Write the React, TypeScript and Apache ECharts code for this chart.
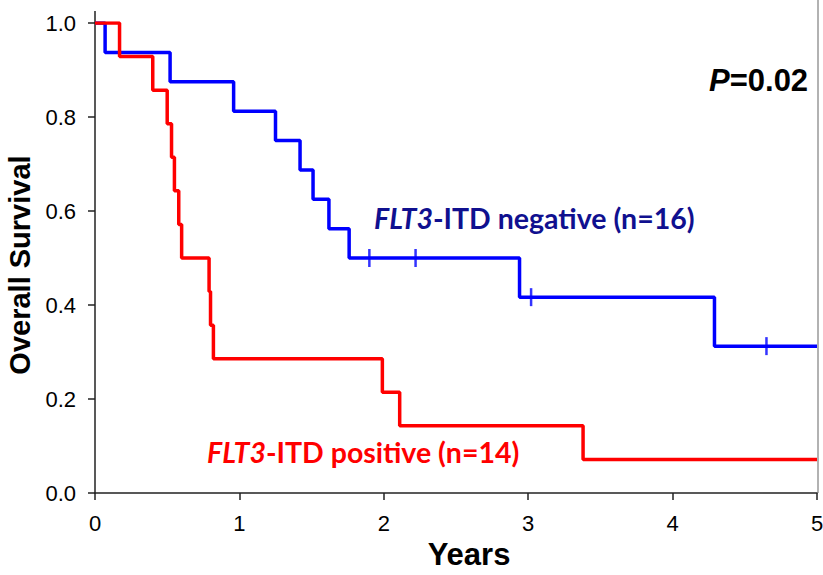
import React, { useEffect, useRef } from "react";
import * as echarts from "echarts";

const blueTimes = [0, 0.07, 0.52, 0.96, 1.25, 1.42, 1.51, 1.62, 1.76, 2.94, 4.29, 5];
const blueSurv = [1, 0.9375, 0.875, 0.8125, 0.75, 0.6875, 0.625, 0.5625, 0.5, 0.4167, 0.3125, 0.3125];
const blueCensorTimes = [1.9, 2.22, 3.02, 4.65];
const blueCensorSurv = [0.5, 0.5, 0.4167, 0.3125];

const redTimes = [0, 0.17, 0.4, 0.5, 0.53, 0.55, 0.58, 0.6, 0.79, 0.8, 0.82, 1.99, 2.11, 3.38, 5];
const redSurv = [1, 0.9286, 0.8571, 0.7857, 0.7143, 0.6429, 0.5714, 0.5, 0.4286, 0.3571, 0.2857, 0.2143, 0.1429, 0.0714, 0.0714];

const xTicks = [0, 1, 2, 3, 4, 5];
const yTicks = [0, 0.2, 0.4, 0.6, 0.8, 1.0];

export default function App() {
  const ref = useRef<HTMLDivElement>(null);
  useEffect(() => {
    if (!ref.current) return;
    const chart = echarts.init(ref.current, null, { renderer: "svg" });
    const zip = (a: number[], b: number[]) => a.map((t, i) => [t, b[i]]);
    chart.setOption({
      animation: false,
      grid: { left: 95, right: 6, top: 23, bottom: 82, outerBoundsMode: "none", containLabel: false },
      xAxis: {
        type: "value",
        min: xTicks[0],
        max: xTicks[xTicks.length - 1],
        interval: 1,
        axisLine: { lineStyle: { color: "#222", width: 1.5 } },
        axisTick: { show: true, length: 7, lineStyle: { color: "#222", width: 1.5 } },
        axisLabel: { color: "#000", fontSize: 22, fontFamily: "Liberation Sans, Arial", margin: 19 },
        splitLine: { show: false },
        name: "Years",
        nameLocation: "middle",
        nameGap: 44,
        nameTextStyle: {
          fontSize: 31,
          fontWeight: "bold",
          color: "#000",
          fontFamily: "Liberation Sans, Arial",
          padding: [0, 0, 0, 26],
        },
      },
      yAxis: {
        type: "value",
        min: yTicks[0],
        max: yTicks[yTicks.length - 1],
        interval: 0.2,
        axisLine: { show: true, lineStyle: { color: "#222", width: 1.5 } },
        axisTick: { show: true, length: 7, lineStyle: { color: "#222", width: 1.5 } },
        axisLabel: {
          color: "#000",
          fontSize: 22,
          fontFamily: "Liberation Sans, Arial",
          margin: 19,
          formatter: (v: number) => v.toFixed(1),
        },
        splitLine: { show: false },
        name: "Overall Survival",
        nameLocation: "middle",
        nameGap: 56,
        nameTextStyle: {
          fontSize: 29,
          fontWeight: "bold",
          color: "#000",
          fontFamily: "Liberation Sans, Arial",
          padding: [0, 14, 0, 0],
        },
      },
      series: [
        {
          type: "line",
          step: "end",
          data: zip(blueTimes, blueSurv),
          showSymbol: false,
          lineStyle: { color: "#0000ff", width: 3.5 },
          z: 3,
        },
        {
          type: "line",
          step: "end",
          data: zip(redTimes, redSurv),
          showSymbol: false,
          lineStyle: { color: "#ff0000", width: 3.5 },
          z: 4,
        },
        {
          type: "scatter",
          data: zip(blueCensorTimes, blueCensorSurv),
          symbol: "rect",
          symbolSize: [2.5, 18],
          itemStyle: { color: "#0000ff" },
          z: 5,
        },
      ],
      graphic: [
        {
          type: "line",
          shape: { x1: 95, y1: 11, x2: 95, y2: 23 },
          style: { stroke: "#222", lineWidth: 1.5 },
        },
        {
          type: "line",
          shape: { x1: 818, y1: 0, x2: 818, y2: 493 },
          style: { stroke: "#999", lineWidth: 1.5 },
        },
        {
          type: "text",
          x: 374,
          y: 218,
          style: {
            text: "{i|FLT3}{n|-ITD negative (n=16)}",
            verticalAlign: "middle",
            rich: {
              i: { fontFamily: "Lato", fontWeight: "bold", fontStyle: "italic", fontSize: 28.5, fill: "#10108f" },
              n: { fontFamily: "Lato", fontWeight: "bold", fontSize: 28.5, fill: "#10108f" },
            },
          },
        },
        {
          type: "text",
          x: 207,
          y: 452,
          style: {
            text: "{i|FLT3}{n|-ITD positive (n=14)}",
            verticalAlign: "middle",
            rich: {
              i: { fontFamily: "Lato", fontWeight: "bold", fontStyle: "italic", fontSize: 28.5, fill: "#ff0000" },
              n: { fontFamily: "Lato", fontWeight: "bold", fontSize: 28.5, fill: "#ff0000" },
            },
          },
        },
        {
          type: "text",
          x: 709,
          y: 80,
          style: {
            text: "{i|P}{n|=0.02}",
            verticalAlign: "middle",
            rich: {
              i: { fontFamily: "Liberation Sans", fontWeight: "bold", fontStyle: "italic", fontSize: 31, fill: "#000" },
              n: { fontFamily: "Liberation Sans", fontWeight: "bold", fontSize: 31, fill: "#000" },
            },
          },
        },
      ],
    });
    return () => chart.dispose();
  }, []);
  return <div ref={ref} style={{ width: 823, height: 575, position: "absolute", left: 0, top: 0 }} />;
}
